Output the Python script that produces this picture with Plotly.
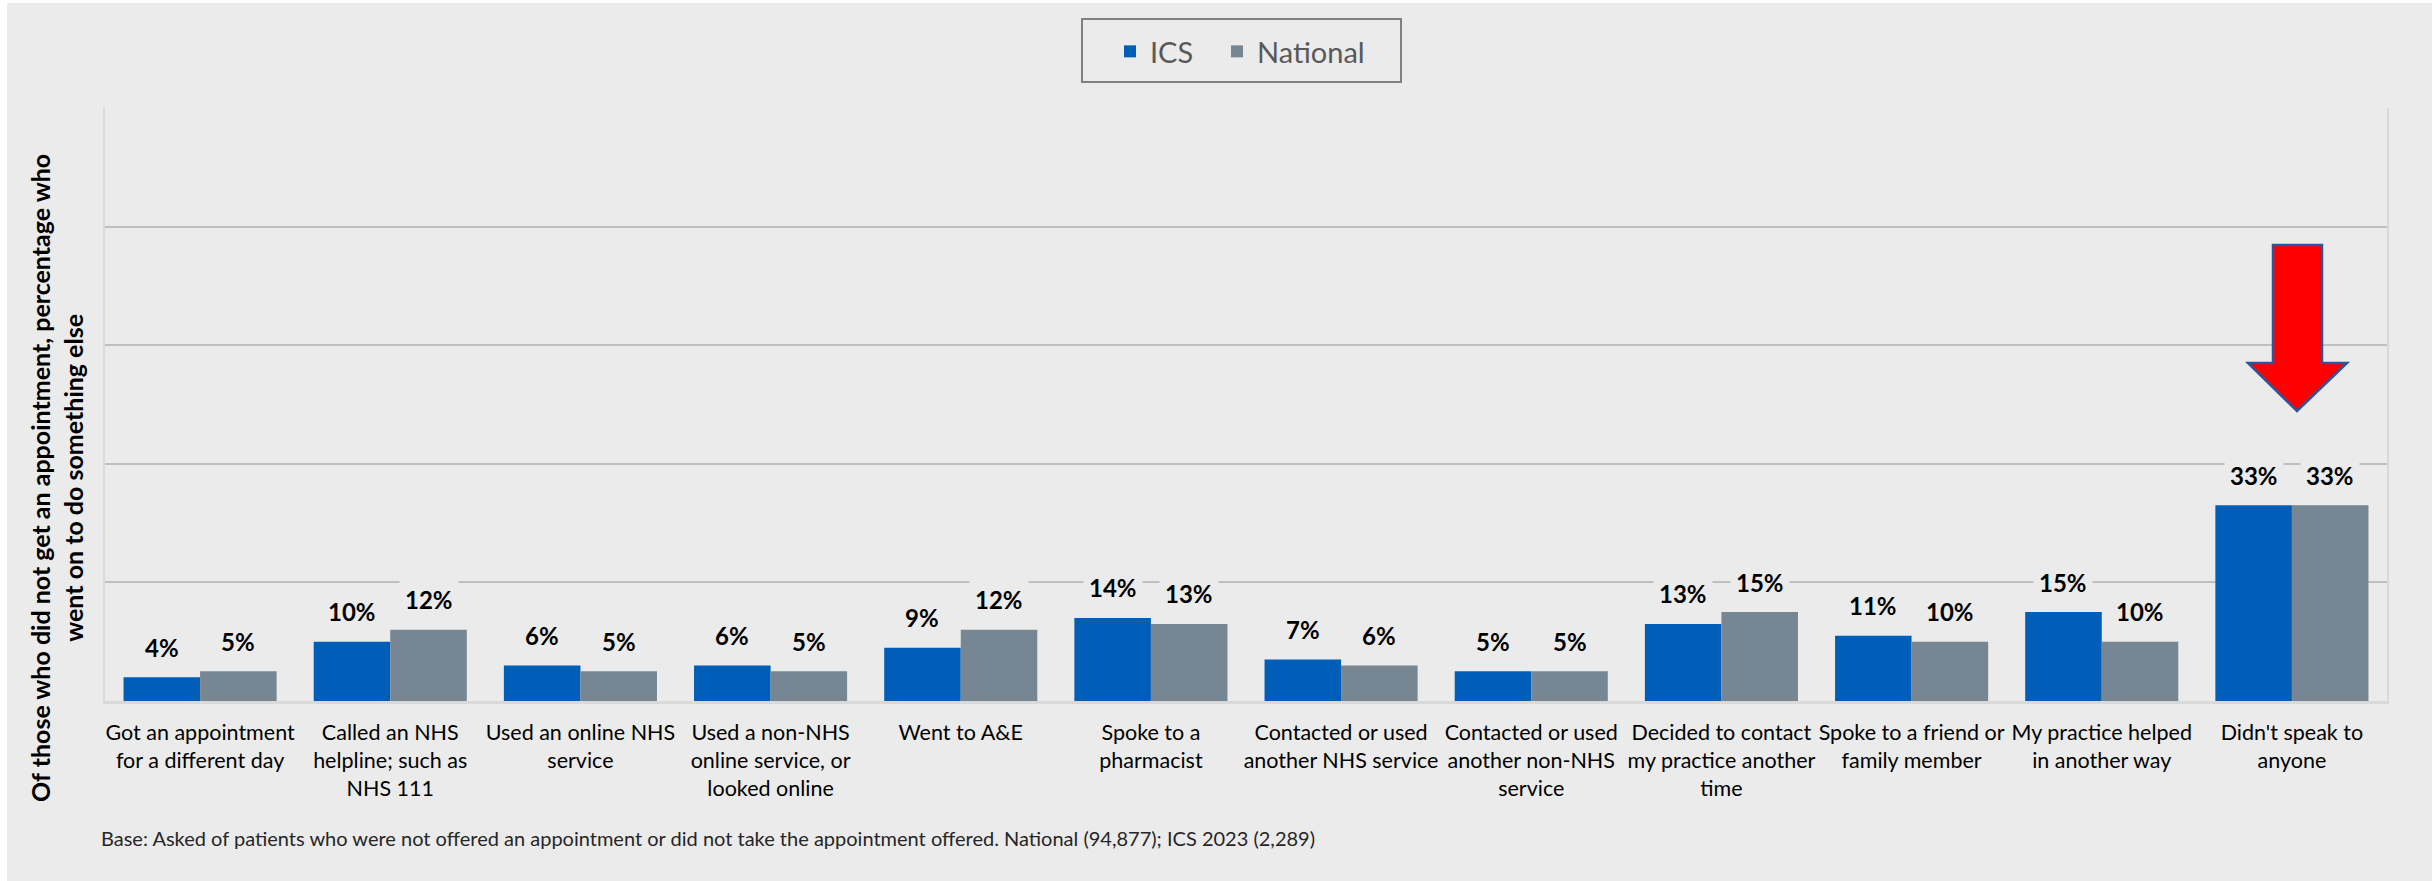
import plotly.graph_objects as go

categories = [
    "Got an appointment<br>for a different day",
    "Called an NHS<br>helpline; such as<br>NHS 111",
    "Used an online NHS<br>service",
    "Used a non-NHS<br>online service, or<br>looked online",
    "Went to A&E",
    "Spoke to a<br>pharmacist",
    "Contacted or used<br>another NHS service",
    "Contacted or used<br>another non-NHS<br>service",
    "Decided to contact<br>my practice another<br>time",
    "Spoke to a friend or<br>family member",
    "My practice helped<br>in another way",
    "Didn't speak to<br>anyone",
]
ics_values = [4, 10, 6, 6, 9, 14, 7, 5, 13, 11, 15, 33]
national_values = [5, 12, 5, 5, 12, 13, 6, 5, 15, 10, 10, 33]
series_names = ["ICS", "National"]
y_ticks = [0, 20, 40, 60, 80, 100]

BG = "#EBEBEB"
FONT = "Lato"
W, H = 2433, 881
ML, MR, MT, MB = 105, 46, 108, 180
PW, PH = W - ML - MR, H - MT - MB


def xp(px):
    return (px - ML) / PW


def yp(py):
    return (H - MB - py) / PH


fig = go.Figure()
fig.add_trace(go.Bar(name=series_names[0], x=categories, y=ics_values,
                     marker=dict(color="#005EB8", line=dict(width=0)),
                     legend="legend"))
fig.add_trace(go.Bar(name=series_names[1], x=categories, y=national_values,
                     marker=dict(color="#768692", line=dict(width=0)),
                     legend="legend2"))

annotations = []
bar_offset = PW / len(categories) * 0.805 / 4
for cat, a, b in zip(categories, ics_values, national_values):
    for val, sh in ((a, -bar_offset), (b, bar_offset)):
        annotations.append(dict(
            x=cat, y=val, xref="x", yref="y", xshift=sh, yshift=30,
            text="<b>%d%%</b>" % val, showarrow=False, yanchor="middle",
            font=dict(family=FONT, size=24, color="#000000"),
            bgcolor=BG, borderpad=5,
        ))

annotations.append(dict(
    x=xp(57), y=yp(478), xref="paper", yref="paper",
    text="<b>Of those who did not get an appointment, percentage who<br>went on to do something else</b>",
    textangle=-90, showarrow=False, xanchor="center", yanchor="middle",
    font=dict(family=FONT, size=25, color="#000000"),
))
annotations.append(dict(
    x=xp(99), y=yp(838), xref="paper", yref="paper",
    text="Base: Asked of patients who were not offered an appointment or did not take the appointment offered. National (94,877); ICS 2023 (2,289)",
    showarrow=False, xanchor="left", yanchor="middle",
    font=dict(family=FONT, size=20, color="#262626"),
))

shapes = [
    dict(type="rect", xref="paper", yref="paper", layer="below",
         x0=xp(7), x1=xp(2432), y0=yp(881), y1=yp(3),
         fillcolor=BG, line=dict(width=0)),
    dict(type="rect", xref="paper", yref="paper",
         x0=xp(1082), x1=xp(1401), y0=yp(82), y1=yp(19),
         fillcolor="rgba(0,0,0,0)", line=dict(color="#808080", width=2)),
    dict(type="path", xref="paper", yref="paper",
         path="M {a} {t} L {b} {t} L {b} {m} L {c} {m} L {d} {e} L {f} {m} L {a} {m} Z".format(
             a=xp(2273), b=xp(2322), c=xp(2347), d=xp(2297), f=xp(2248),
             t=yp(245), m=yp(363), e=yp(411)),
         fillcolor="#FF0000", line=dict(color="#2F5597", width=2.5)),
]

legend_common = dict(orientation="h", xanchor="left", yanchor="middle",
                     y=yp(51.5), bgcolor="rgba(0,0,0,0)", borderwidth=0,
                     font=dict(family=FONT, size=29, color="#595959"))

fig.update_layout(
    width=W, height=H,
    margin=dict(l=ML, r=MR, t=MT, b=MB, pad=0),
    paper_bgcolor="#FFFFFF", plot_bgcolor="rgba(0,0,0,0)",
    barmode="group", bargap=0.195, bargroupgap=0,
    font=dict(family=FONT, color="#000000"),
    showlegend=True,
    legend=dict(x=xp(1110), **legend_common),
    legend2=dict(x=xp(1217), **legend_common),
    xaxis=dict(showline=True, linecolor="#D9D9D9", linewidth=3,
               ticks="", tickfont=dict(family=FONT, size=21.5, color="#000000"),
               tickangle=0, showgrid=False, ticklabelstandoff=10),
    yaxis=dict(range=[0, 100], tickvals=y_ticks, showticklabels=False,
               showgrid=True, gridcolor="#BFBFBF", gridwidth=2,
               zeroline=False, showline=True, linecolor="#D9D9D9",
               linewidth=2, mirror=True, ticks=""),
    annotations=annotations,
    shapes=shapes,
)

fig.write_html("out.html", config={"displayModeBar": False},
               post_script="document.body.style.margin='0';")
